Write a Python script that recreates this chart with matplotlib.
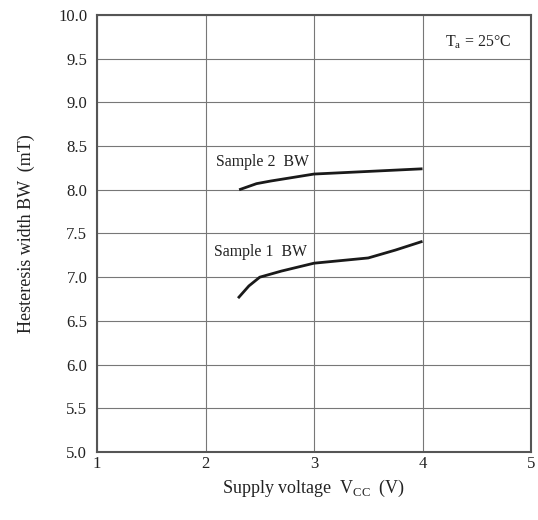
import matplotlib
matplotlib.use("Agg")
import matplotlib.pyplot as plt

# data
s1_v = [2.30, 2.40, 2.50, 2.70, 3.00, 3.50, 3.75, 4.00]
s1_bw = [6.76, 6.90, 7.00, 7.07, 7.16, 7.22, 7.31, 7.41]
s2_v = [2.31, 2.47, 2.60, 3.00, 3.50, 4.00]
s2_bw = [8.00, 8.07, 8.10, 8.18, 8.21, 8.24]

x_ticks = [1, 2, 3, 4, 5]
y_ticks = [5.0, 5.5, 6.0, 6.5, 7.0, 7.5, 8.0, 8.5, 9.0, 9.5, 10.0]

plt.rcParams['font.family'] = ['Liberation Serif', 'DejaVu Serif']

fig = plt.figure(figsize=(5.38, 5.2), dpi=100)
ax = fig.add_axes([0.1803, 0.1308, 0.8067, 0.8404])

ax.plot(s1_v, s1_bw, color='#1a1a1a', lw=2.0, solid_capstyle='butt')
ax.plot(s2_v, s2_bw, color='#1a1a1a', lw=2.0, solid_capstyle='butt')

ax.set_xlim(1, 5)
ax.set_ylim(5.0, 10.0)
ax.set_xticks(x_ticks)
ax.set_yticks(y_ticks)
ax.set_yticklabels([f"{v:.1f}" for v in y_ticks])
ax.grid(True, color='#777777', lw=0.8)
ax.tick_params(length=0, labelsize=12, colors='#222222')
ax.tick_params(axis='x', pad=3)
ax.tick_params(axis='y', pad=7)
for s in ax.spines.values():
    s.set_color('#555555')
    s.set_linewidth(1.5)

ax.text(2.10, 8.32, "Sample 2  BW", fontsize=11.4, va='center', color='#222222')
ax.text(2.08, 7.29, "Sample 1  BW", fontsize=11.4, va='center', color='#222222')
ax.text(4.21, 9.69, r"T$_\mathregular{a}$ = 25°C", fontsize=11.4, va='center', color='#222222')

ax.set_xlabel(r"Supply voltage  V$_\mathregular{CC}$  (V)", fontsize=13, labelpad=4, color='#222222')
ax.set_ylabel("Hesteresis width BW  (mT)", fontsize=13, labelpad=17, color='#222222')

fig.savefig("out.png", dpi=100)
